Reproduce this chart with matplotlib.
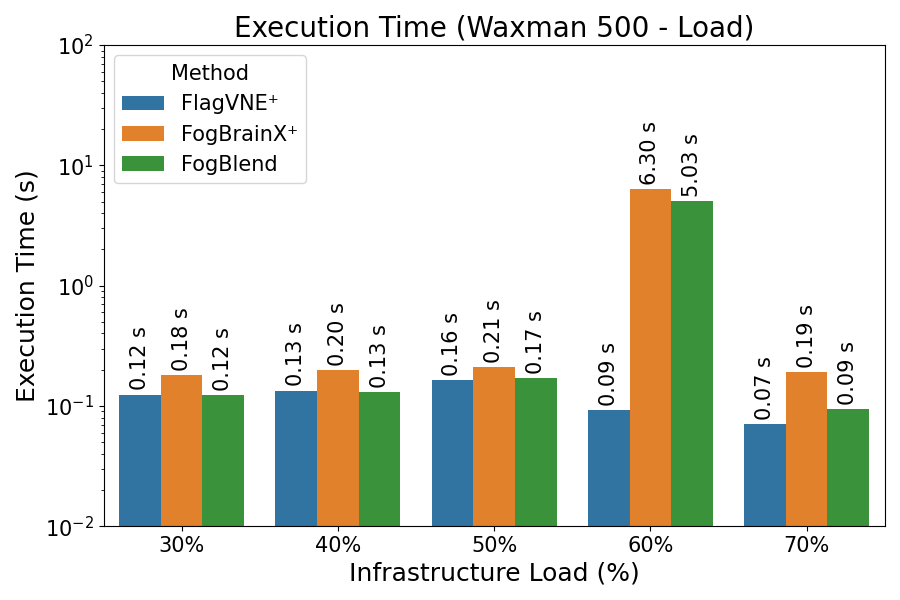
import matplotlib
matplotlib.use("Agg")
import matplotlib.pyplot as plt
import seaborn as sns
import pandas as pd

loads = ["30%", "40%", "50%", "60%", "70%"]
methods = ["FlagVNE\u207a", "FogBrainX\u207a", "FogBlend"]

flagvne = [0.124, 0.134, 0.164, 0.092, 0.071]
fogbrainx = [0.181, 0.198, 0.211, 6.30, 0.191]
fogblend = [0.123, 0.130, 0.170, 5.03, 0.094]

rows = []
for m, vals in zip(methods, [flagvne, fogbrainx, fogblend]):
    for l, v in zip(loads, vals):
        rows.append({"Load": l, "Method": m, "Time": v})
df = pd.DataFrame(rows)

fig, ax = plt.subplots(figsize=(9, 6), dpi=100)
sns.barplot(data=df, x="Load", y="Time", hue="Method", ax=ax, errorbar=None)
ax.set_yscale("log")
ax.set_ylim(1e-2, 1e2)

for c in ax.containers:
    ax.bar_label(c, fmt="%.2f s", rotation=90, padding=3, fontsize=15)

ax.set_title("Execution Time (Waxman 500 - Load)", fontsize=20)
ax.set_xlabel("Infrastructure Load (%)", fontsize=18)
ax.set_ylabel("Execution Time (s)", fontsize=18)
ax.tick_params(axis="both", labelsize=15)
ax.legend(title="Method", fontsize=15, title_fontsize=15, loc="upper left")

plt.subplots_adjust(left=0.115, right=0.983, top=0.925, bottom=0.123)
plt.savefig("out.png")
